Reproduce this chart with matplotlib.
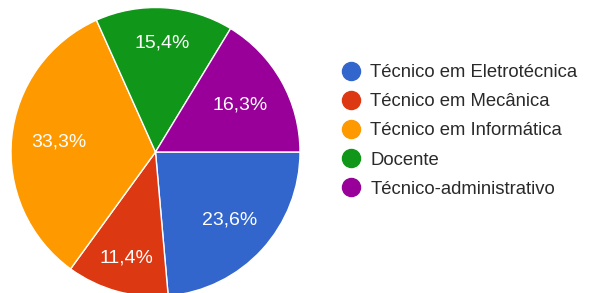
import numpy as np
import matplotlib.pyplot as plt
from matplotlib.lines import Line2D

plt.rcParams['font.family'] = ['Liberation Sans', 'DejaVu Sans']

# Data
categories = ["Técnico em Eletrotécnica", "Técnico em Mecânica", "Técnico em Informática",
              "Docente", "Técnico-administrativo"]
shares = [23.6, 11.4, 33.3, 15.4, 16.3]
pct_labels = ["23,6%", "11,4%", "33,3%", "15,4%", "16,3%"]
colors = ["#3366cc", "#dc3912", "#ff9900", "#109618", "#990099"]

fig = plt.figure(figsize=(5.9, 2.93), dpi=100)
ax = fig.add_axes([11/590, -3.5/293, 289/590, 289/293])

wedges, _ = ax.pie(shares, colors=colors, startangle=0, counterclock=False,
                   radius=1, wedgeprops=dict(edgecolor="white", linewidth=1))
ax.set_xlim(-1, 1)
ax.set_ylim(-1, 1)
ax.set_aspect("equal")

# percentage labels inside slices
label_dist = [0.7, 0.76, 0.67, 0.755, 0.67]
for w, txt, d in zip(wedges, pct_labels, label_dist):
    ang = np.deg2rad((w.theta1 + w.theta2) / 2)
    ax.text(d*np.cos(ang), d*np.sin(ang), txt, color="white", fontsize=14,
            ha="center", va="center")

handles = [Line2D([], [], marker="o", linestyle="", markersize=13,
                  markerfacecolor=c, markeredgecolor=c) for c in colors]
fig.legend(handles, categories, loc="upper left", bbox_to_anchor=(340/590, 1 - 64/293),
           frameon=False, fontsize=13.3, labelcolor="#2a2a2a", handletextpad=0.44,
           labelspacing=0.66, handlelength=1.2, borderpad=0, borderaxespad=0)

fig.savefig("out.png", dpi=100)
